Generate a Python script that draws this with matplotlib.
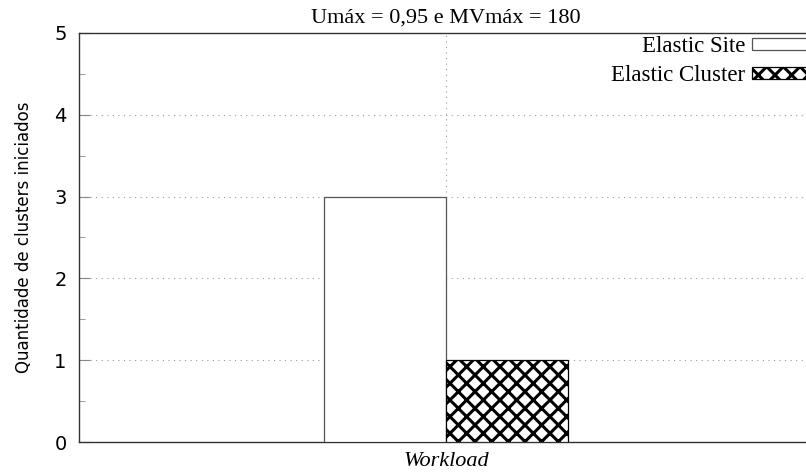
import matplotlib

matplotlib.use("Agg")
import matplotlib.pyplot as plt
from matplotlib.ticker import MultipleLocator

# data
series = ["Elastic Site", "Elastic Cluster"]
values = [3, 1]
offsets = [-0.5, 0.5]
hatches = ["", "xx"]

plt.rcParams["hatch.linewidth"] = 2.2

fig = plt.figure(figsize=(8.06, 4.73), dpi=100)
ax = fig.add_axes([79 / 806, 1 - 442 / 473, 734 / 806, (442 - 33) / 473])

for name, val, off, h in zip(series, values, offsets, hatches):
    ax.bar(off, val, width=1.0, facecolor="white", edgecolor="#555555",
           linewidth=0.9, hatch=h, label=name, zorder=3)

ax.set_xlim(-3, 3)
ax.set_ylim(0, 5)
ax.set_xticks([0])
ax.set_xticklabels([])
ax.yaxis.set_major_locator(MultipleLocator(1))
ax.yaxis.set_minor_locator(MultipleLocator(0.5))
ax.tick_params(axis="y", which="major", direction="in", length=8, color="#888888",
               labelsize=14, pad=9)
ax.tick_params(axis="y", which="minor", direction="in", length=4, color="#888888")
ax.tick_params(axis="x", length=0, pad=0)
ax.grid(True, which="major", linestyle=(0, (1, 4)), color="#999999", linewidth=0.8)
for s in ax.spines.values():
    s.set_color("#333333")
    s.set_linewidth(1.0)

ax.set_ylabel("Quantidade de clusters iniciados", fontsize=12, labelpad=15)
ax.set_xlabel("Workload", family="Liberation Serif", style="italic", fontsize=16, labelpad=7)
ax.set_title("Umáx = 0,95 e MVmáx = 180", family="Liberation Serif", fontsize=16, pad=7.5)

# hatch colour for the cross-hatched bar
for p in ax.patches:
    if p.get_hatch():
        p.set_edgecolor("black")

leg = ax.legend(loc="upper right", bbox_to_anchor=(1.0, 1.0), frameon=False,
                markerfirst=False, prop={"family": "Liberation Serif", "size": 16.5},
                handlelength=2.5, handleheight=0.45, labelspacing=0.35,
                borderaxespad=0.0, borderpad=0.15, handletextpad=0.3)

fig.savefig("out.png", dpi=100)
